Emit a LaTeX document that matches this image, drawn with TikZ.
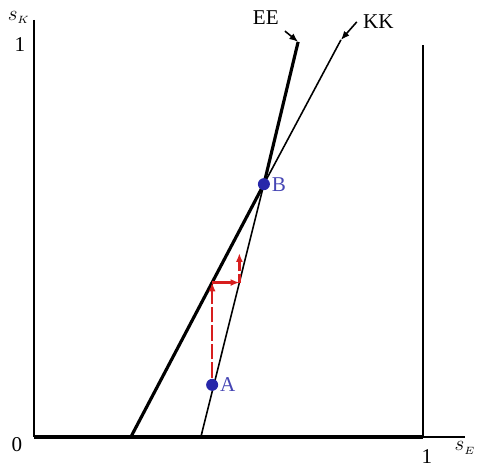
\documentclass[tikz,border=0pt]{standalone}
\usepackage{fontspec}
\setmainfont{Liberation Serif}
\usepackage{xcolor}
\usepackage{tikz}
\usetikzlibrary{arrows.meta}

\definecolor{dotblue}{RGB}{40,40,170}
\definecolor{labblue}{RGB}{70,70,180}
\definecolor{shiftred}{RGB}{215,30,30}

\begin{document}
\begin{tikzpicture}[x=7.78cm,y=7.84cm,>={Latex[length=5pt,width=4pt]},font=\large]
  \useasboundingbox (-0.0874,-0.0816) rectangle (1.1414,1.1148);
  \coordinate (O) at (0,0);
  \coordinate (Ytop) at (0,1.064);
  \coordinate (X1) at (1,0);
  \coordinate (Xend) at (1.108,0);
  \coordinate (R1) at (1,1);
  \coordinate (E0) at (0.249,0);
  \coordinate (K0) at (0.429,0);
  \coordinate (B) at (0.591,0.645);
  \coordinate (A) at (0.458,0.133);
  \coordinate (E1) at (0.679,1.008);
  \coordinate (K1) at (0.789,1.013);
  \coordinate (P1) at (0.458,0.151);
  \coordinate (P2) at (0.458,0.394);
  \coordinate (P3) at (0.528,0.394);
  \coordinate (P4) at (0.528,0.469);
  % axes and box
  \draw[line width=0.7pt] (Ytop) -- (O);
  \draw[line width=1.8pt] (O) -- (X1);
  \draw[line width=0.7pt] (X1) -- (Xend);
  \draw[line width=0.7pt] (X1) -- (R1);
  % the two loci, crossing at B
  \draw[line width=1.8pt] (E0) -- (B) -- (E1);
  \draw[line width=0.9pt] (K0) -- (B) -- (K1);
  % labels of the loci
  \node (EElab) at (0.596,1.069) {EE};
  \node (KKlab) at (0.885,1.059) {KK};
  \draw[->,line width=0.9pt] (EElab.south east) -- (E1);
  \draw[->,line width=0.9pt] (KKlab.west) -- (K1);
  % adjustment path
  \draw[->,shiftred,line width=1.5pt,dash pattern=on 9pt off 1.5pt] (P1) -- (P2);
  \draw[->,shiftred,line width=1.5pt] (P2) -- (P3);
  \draw[->,shiftred,line width=1.5pt,dash pattern=on 5pt off 1.5pt] (P3) -- (P4);
  % equilibria
  \fill[dotblue] (A) circle (0.12cm);
  \fill[dotblue] (B) circle (0.12cm);
  \node[labblue,right=1pt] (Alab) at (A) {A};
  \node[labblue,right=1pt] (Blab) at (B) {B};
  % axis labels
  \node (sK) at (-0.039,1.071) {$s_{\scriptscriptstyle K}$};
  \node (yone) at (-0.036,1.0) {1};
  \node (zero) at (-0.044,-0.020) {0};
  \node (xone) at (1.010,-0.050) {1};
  \node (sE) at (1.108,-0.028) {$s_{\scriptscriptstyle E}$};
\end{tikzpicture}
\end{document}
